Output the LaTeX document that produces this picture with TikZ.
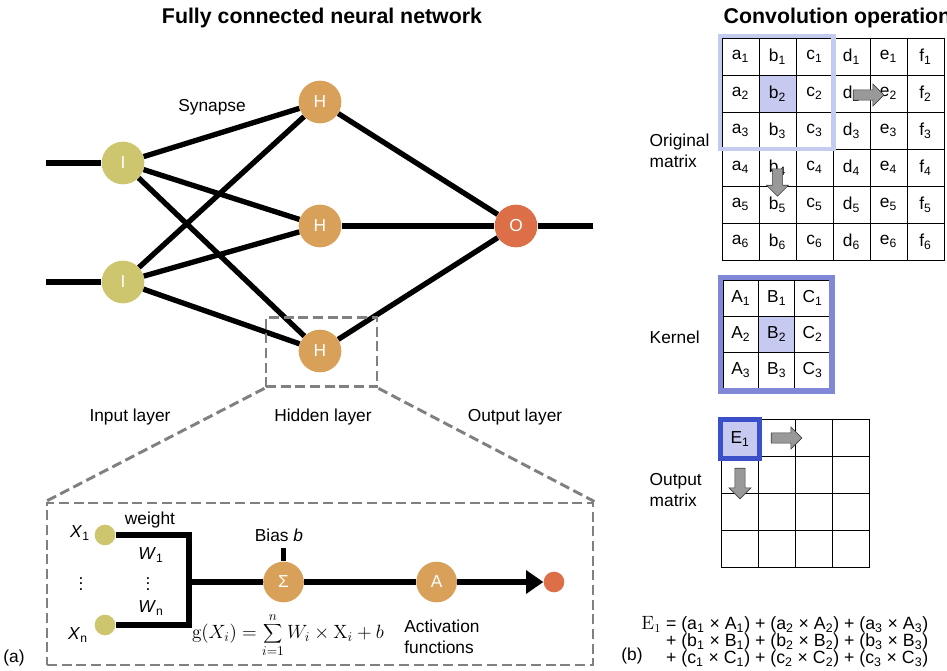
\documentclass[tikz,border=0pt]{standalone}
\usepackage[no-math]{fontspec}
\setmainfont{Liberation Sans}
\usetikzlibrary{arrows.meta,shapes.arrows}

\definecolor{incol}{HTML}{CDC66E}
\definecolor{hidcol}{HTML}{D9A05A}
\definecolor{outcol}{HTML}{DD6F48}
\definecolor{winframe}{HTML}{C3CBEE}
\definecolor{kerframe}{HTML}{7F87D6}
\definecolor{resframe}{HTML}{3B4FC9}
\definecolor{cellfill}{HTML}{C6CAF0}

\begin{document}
\begin{tikzpicture}[x=0.75pt,y=-0.75pt,>={Triangle[length=13pt,width=17pt]},
	lbl/.style={font=\fontsize{13}{15.5}\selectfont},
	title/.style={font=\bfseries\fontsize{16}{19}\selectfont},
	neuron/.style={circle,minimum size=32pt,inner sep=0pt,text=white,font=\fontsize{13}{15}\selectfont},
	in node/.style={neuron,fill=incol},
	hid node/.style={neuron,fill=hidcol},
	out node/.style={neuron,fill=outcol},
	dot node/.style={circle,minimum size=15.5pt,inner sep=0pt},
	synapse/.style={line width=4pt},
	zoom box/.style={draw=gray,line width=2.2pt,dash pattern=on 7.5pt off 3.5pt},
	cell/.style={draw,line width=0.6pt,minimum size=27.75pt,inner sep=0pt,font=\fontsize{13}{15}\selectfont},
	blk arrow/.style={single arrow,draw=black!75,fill=gray!80,line width=0.5pt,minimum height=23pt,inner xsep=0pt,inner ysep=3.6pt,single arrow head extend=4.4pt}]

	\useasboundingbox (0,0) rectangle (947,671);

	%titles
	\node[title] (titleA) at (322,18) {Fully connected neural network};
	\node[title,anchor=west] (titleB) at (719,18) {Convolution operation};

	%nodes
	\node[in node] (I1) at (123,163) {I};
	\node[in node] (I2) at (123,282) {I};
	\node[hid node] (H1) at (320,102) {H};
	\node[hid node] (H2) at (320,226) {H};
	\node[hid node] (H3) at (320,351) {H};
	\node[out node] (O) at (516,226) {O};
	\coordinate (inA) at (46,163);
	\coordinate (inB) at (46,282);
	\coordinate (outA) at (593,226);

	\node[lbl] (syn) at (212,107) {Synapse};
	\node[lbl] (inlay) at (130,417) {Input layer};
	\node[lbl] (hidlay) at (323,417) {Hidden layer};
	\node[lbl] (outlay) at (515,417) {Output layer};

	%edges between layers
	\path[synapse]
		(inA) edge (I1)
		(inB) edge (I2)
		(I1) edge (H1)
		(I1) edge (H2)
		(I1) edge (H3)
		(I2) edge (H1)
		(I2) edge (H2)
		(I2) edge (H3)
		(H1) edge (O)
		(H2) edge (O)
		(H3) edge (O)
		(O) edge (outA);

	%zoom onto one hidden neuron
	\node[zoom box,minimum width=83.25pt,minimum height=52.3pt] (zoomH) at (321.5,352) {};
	\node[zoom box,minimum width=409.5pt,minimum height=121.5pt] (detail) at (320,584) {};
	\draw[zoom box] (zoomH.south west) -- (detail.north west);
	\draw[zoom box] (zoomH.south east) -- (detail.north east);

	%neuron detail
	\node[dot node,fill=incol] (x1) at (105,535) {};
	\node[dot node,fill=incol] (xn) at (105,625) {};
	\node[lbl] (x1lab) at (80,533) {\textit{X}\textsubscript{1}};
	\node[lbl] (xnlab) at (78,635) {\textit{X}\textsubscript{n}};
	\node[lbl] (xdots) at (81,580) {\vdots};
	\node[lbl] (weight) at (150,520) {weight};
	\node[lbl] (w1) at (151,555) {\textit{W}\textsubscript{1}};
	\node[lbl] (wdots) at (148,580) {\vdots};
	\node[lbl] (wn) at (151,608) {\textit{W}\textsubscript{n}};
	\coordinate (jA) at (189,535);
	\coordinate (jB) at (189,625);
	\coordinate (jM) at (189,582);

	\node[hid node,minimum size=30.5pt] (sig) at (283.5,582) {Σ};
	\node[hid node,minimum size=30.5pt] (act) at (436.6,582) {A};
	\node[dot node,fill=outcol] (res) at (554,582) {};
	\node[lbl] (bias) at (279,535) {Bias \textit{b}};
	\node[font=\fontsize{14}{17}\selectfont] (gfun) at (288,635) {$\displaystyle \mathrm{g}(X_i)=\sum_{i=1}^{n} W_i\times \mathrm{X}_i+b$};
	\node[lbl,align=left] (actlab) at (442,637) {Activation\\functions};

	\draw[synapse,line join=miter] (x1) -- (jA) -- (jB) -- (xn);
	\draw[synapse] (jM) -- (sig);
	\draw[synapse] (sig.north) -- ++(0,-13);
	\draw[synapse] (sig) -- (act);
	\draw[synapse,->] (act) -- (res);

	%original matrix
	\fill[cellfill] (759,75) rectangle (796,112);
	\foreach \c [count=\i] in {a,b,c,d,e,f}
		\foreach \r in {1,...,6}
			\node[cell] (m\c\r) at ({722+37*(\i-0.5)},{38+37*(\r-0.5)}) {\c\textsubscript{\r}};
	\draw[winframe,line width=3.5pt] (720,36) rectangle (833.5,149);
	\node[blk arrow] (movR) at (866,95) {};
	\node[blk arrow,minimum height=20.5pt,rotate=-90] (movD) at (777.5,180) {};
	\node[lbl,align=left,anchor=west] (origlab) at (645,151) {Original\\matrix};

	%kernel
	\fill[cellfill] (759,316) rectangle (794.5,352);
	\foreach \c [count=\i] in {A,B,C}
		\foreach \r in {1,...,3}
			\node[cell,minimum size=26.85pt] (k\c\r) at ({723+35.8*(\i-0.5)},{280+36*(\r-0.5)}) {\c\textsubscript{\r}};
	\draw[kerframe,line width=3.8pt] (720.5,277.5) rectangle (832,391);
	\node[lbl,anchor=west] (kerlab) at (645,337) {Kernel};

	%output matrix
	\foreach \i in {1,...,4}
		\foreach \j in {1,...,4}
			\node[cell] (o\i\j) at ({721+37*(\i-0.5)},{419+37*(\j-0.5)}) {};
	\node[cell,draw=resframe,fill=cellfill,line width=3.5pt,minimum size=29.25pt] (E1) at (740,439) {E\textsubscript{1}};
	\node[blk arrow] (outR) at (784,438) {};
	\node[blk arrow,rotate=-90] (outD) at (740,481) {};
	\node[lbl,align=left,anchor=west] (outlab) at (645,490) {Output\\matrix};

	%sum for the first output entry
	\node[lbl,align=right,anchor=east,font=\fontsize{13.3}{12.6}\selectfont] (conveq) at (933,642) {$\mathrm{E}_1$ = (a\textsubscript{1} × A\textsubscript{1}) + (a\textsubscript{2} × A\textsubscript{2}) + (a\textsubscript{3} × A\textsubscript{3})\\+ (b\textsubscript{1} × B\textsubscript{1}) + (b\textsubscript{2} × B\textsubscript{2}) + (b\textsubscript{3} × B\textsubscript{3})\\+ (c\textsubscript{1} × C\textsubscript{1}) + (c\textsubscript{2} × C\textsubscript{2}) + (c\textsubscript{3} × C\textsubscript{3})};

	%panel labels
	\node[lbl] (pa) at (14,658) {(a)};
	\node[lbl] (pb) at (632,656) {(b)};

\end{tikzpicture}
\end{document}
